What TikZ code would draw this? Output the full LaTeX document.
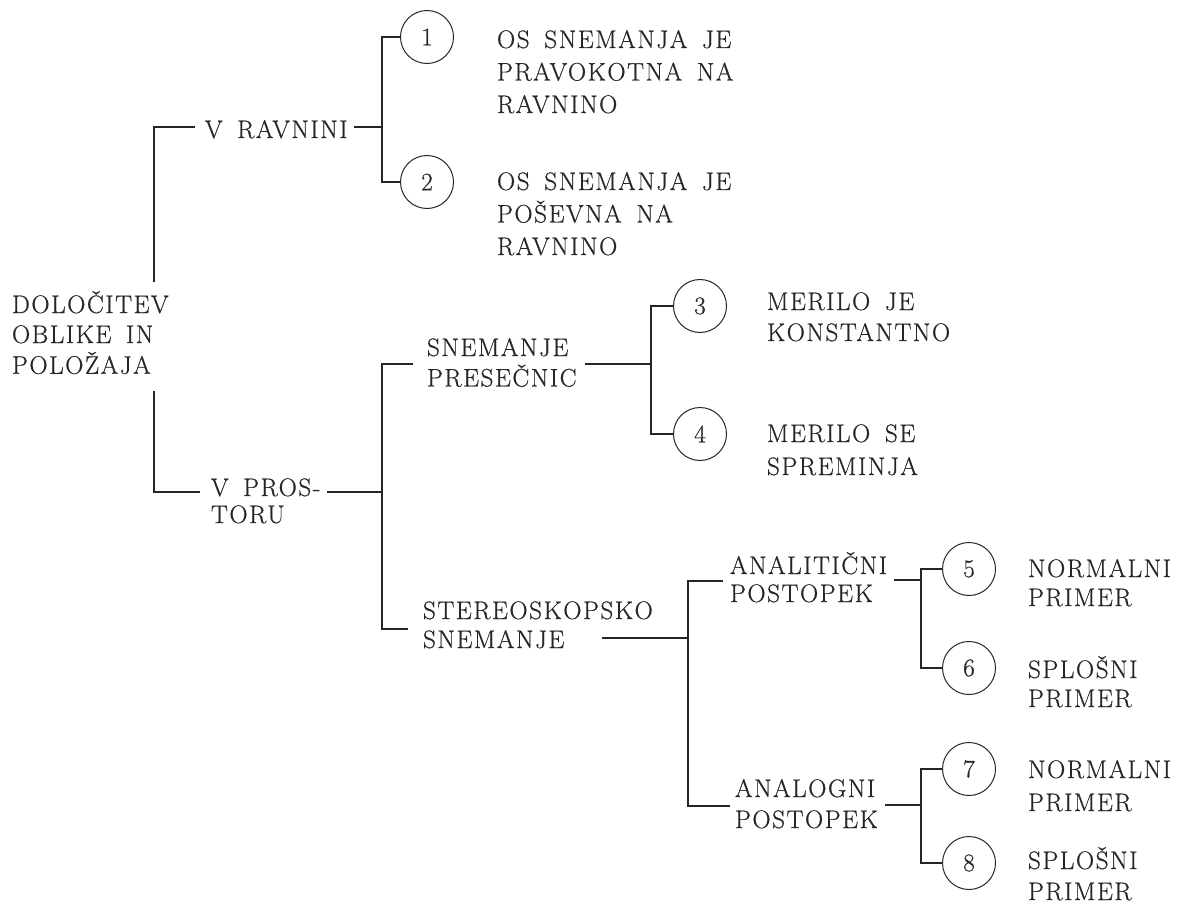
\documentclass[tikz,border=0pt]{standalone}
\usepackage{fontspec}
\setmainfont{Latin Modern Roman}[LetterSpace=6,WordSpace=1.6,FakeBold=0.6]
\usetikzlibrary{calc}
\newcommand\ml[2]{{\fontsize{25.3}{#1}\selectfont\begin{tabular}[t]{@{}l@{}}#2\end{tabular}}}
\begin{document}
\begin{tikzpicture}[x=1pt,y=-1pt,
  line width=1.1pt, draw=black!85,
  lbl/.style={anchor=base west, inner sep=0pt, outer sep=0pt, text=black!85},
  num/.style={circle, draw=black!85, line width=1pt, minimum size=53pt, inner sep=0pt,
    text=black!85, font=\fontsize{25.3}{27}\selectfont}]
\useasboundingbox (0,0) rectangle (1193,909);

% text nodes
\node[lbl] (root)   at (12,313)  {\ml{30}{DOLOČITEV\\OBLIKE IN\\POLOŽAJA}};
\node[lbl] (ravn)   at (205,138) {\ml{30}{V RAVNINI}};
\node[lbl] (pros)   at (211,496) {\ml{27}{V PROS-\\TORU}};
\node[lbl] (pres)   at (427,356) {\ml{29}{SNEMANJE\\PRESEČNIC}};
\node[lbl] (stereo) at (423,619) {\ml{29}{STEREOSKOPSKO\\SNEMANJE}};
\node[lbl] (anat)   at (730,574) {\ml{28}{ANALITIČNI\\POSTOPEK}};
\node[lbl] (analog) at (735,797) {\ml{31}{ANALOGNI\\POSTOPEK}};

\node[lbl] (t1) at (497,48)  {\ml{32.5}{OS SNEMANJA JE\\PRAVOKOTNA NA\\RAVNINO}};
\node[lbl] (t2) at (497,190) {\ml{32.5}{OS SNEMANJA JE\\POŠEVNA NA\\RAVNINO}};
\node[lbl] (t3) at (767,310) {\ml{31}{MERILO JE\\KONSTANTNO}};
\node[lbl] (t4) at (767,442) {\ml{33}{MERILO SE\\SPREMINJA}};
\node[lbl] (t5) at (1028,577) {\ml{29}{NORMALNI\\PRIMER}};
\node[lbl] (t6) at (1028,678) {\ml{29}{SPLOŠNI\\PRIMER}};
\node[lbl] (t7) at (1028,778) {\ml{33}{NORMALNI\\PRIMER}};
\node[lbl] (t8) at (1028,869) {\ml{31}{SPLOŠNI\\PRIMER}};

% numbered circles
\node[num] (c1) at (427,37)  {1};
\node[num] (c2) at (427,182) {2};
\node[num] (c3) at (700,306) {3};
\node[num] (c4) at (700,434) {4};
\node[num] (c5) at (969,569) {5};
\node[num] (c6) at (969,668) {6};
\node[num] (c7) at (969,769) {7};
\node[num] (c8) at (969,863) {8};

% junctions
\coordinate (j0) at (154,0);
\coordinate (j1) at (382,127);
\coordinate (j2) at (382,492);
\coordinate (j3) at (651,364);
\coordinate (j4) at (688,638);
\coordinate (j5) at (921,580);
\coordinate (j6) at (921,805);

% connectors
\draw ($(root.north -| j0)+(0,-9)$) |- ($(ravn.base west)+(-10,-11)$);
\draw ($(root.south -| j0)+(0,8)$) |- ($(pros.base west)+(-11,-4)$);

\draw ($(ravn.base east)+(6,-11)$) -- (j1);
\draw (c1.west) -| (j1) |- (c2.west);

\draw ($(pros.base east)+(7,-4)$) -- (j2);
\draw ($(pres.base west)+(-14,8)$) -| (j2) |- ($(stereo.base west)+(-15,10)$);

\draw ($(pres.base east)+(8,8)$) -- (j3);
\draw (c3.west) -| (j3) |- (c4.west);

\draw ($(stereo.base west)+(179,19)$) -- (j4);
\draw ($(anat.base west)+(-7,7)$) -| (j4) |- ($(analog.base west)+(-5,9)$);

\draw ($(anat.base east)+(7,6)$) -- (j5);
\draw (c5.west) -| (j5) |- (c6.west);

\draw ($(analog.base east)+(7,8)$) -- (j6);
\draw (c7.west) -| (j6) |- (c8.west);
\end{tikzpicture}
\end{document}
